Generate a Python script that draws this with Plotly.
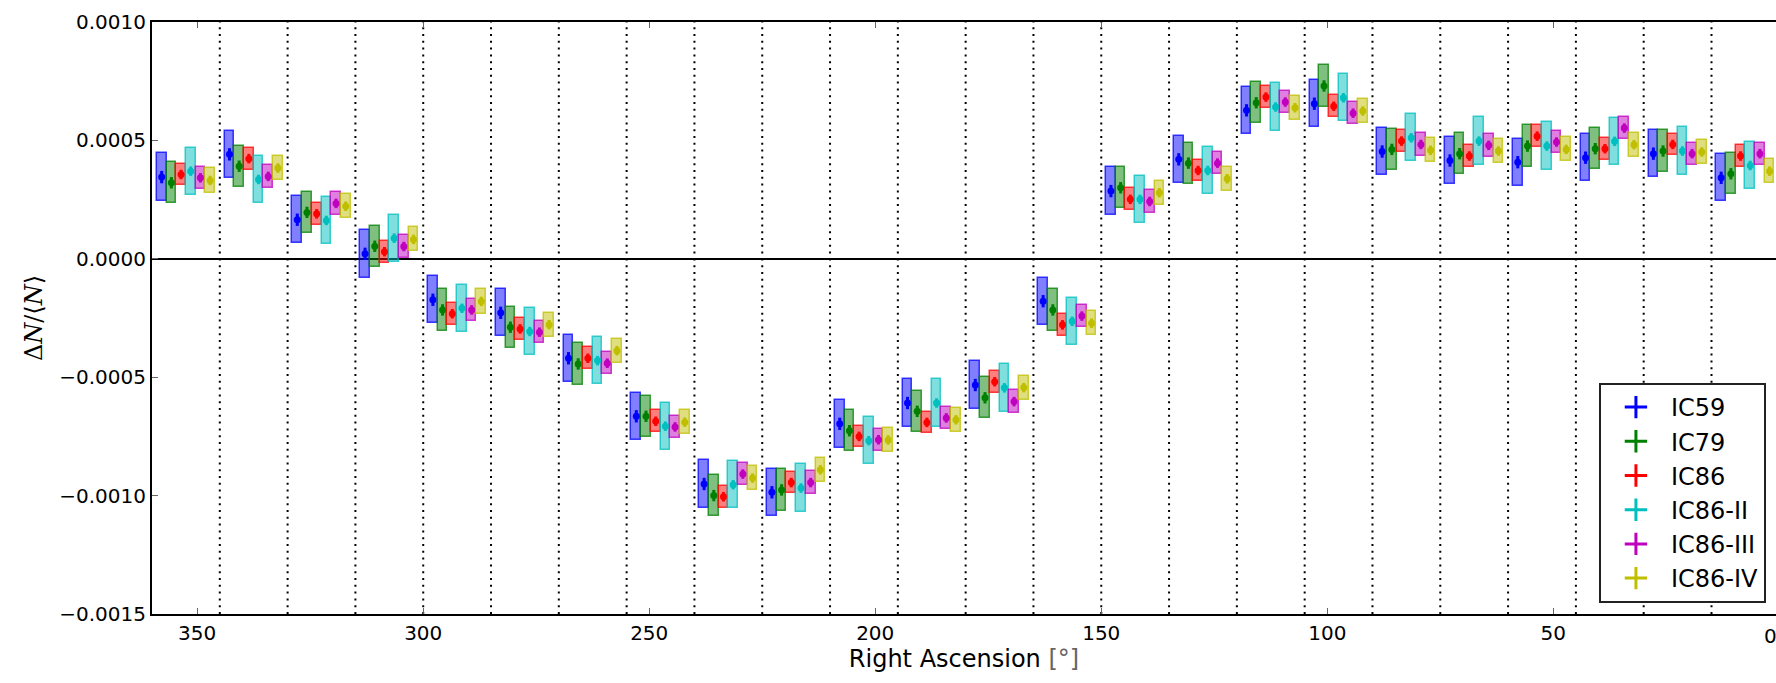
import plotly.graph_objects as go

# Right-ascension bin centres (degrees), 15 degree bins, read from 360 down to 0
ra_bins = [352.5, 337.5, 322.5, 307.5, 292.5, 277.5, 262.5, 247.5, 232.5, 217.5, 202.5, 187.5,
           172.5, 157.5, 142.5, 127.5, 112.5, 97.5, 82.5, 67.5, 52.5, 37.5, 22.5, 7.5]
bin_edges = [345, 330, 315, 300, 285, 270, 255, 240, 225, 210, 195, 180,
             165, 150, 135, 120, 105, 90, 75, 60, 45, 30, 15]

series_names = ["IC59", "IC79", "IC86", "IC86-II", "IC86-III", "IC86-IV"]

# relative intensity dN/<N>, in units of 1e-4
ic59 = [3.45, 4.41, 1.65, 0.21, -1.73, -2.28, -4.20, -6.65, -9.51, -9.86, -6.97, -6.09,
        -5.33, -1.79, 2.86, 4.20, 6.27, 6.55, 4.53, 4.15, 4.08, 4.27, 4.44, 3.42]
ic79 = [3.21, 3.91, 1.96, 0.53, -2.16, -2.89, -4.44, -6.65, -10.00, -9.76, -7.26, -6.44,
        -5.87, -2.16, 3.00, 4.04, 6.59, 7.30, 4.62, 4.44, 4.76, 4.65, 4.55, 3.59]
ic86 = [3.56, 4.23, 1.90, 0.30, -2.32, -2.96, -4.20, -6.86, -10.05, -9.45, -7.50, -6.91,
        -5.19, -2.79, 2.51, 3.73, 6.83, 6.44, 4.97, 4.34, 5.18, 4.65, 4.83, 4.34]
ic86_2 = [3.70, 3.35, 1.62, 0.87, -2.09, -3.07, -4.30, -7.07, -9.54, -9.68, -7.68, -6.09,
          -5.45, -2.64, 2.51, 3.73, 6.41, 6.80, 5.11, 4.97, 4.76, 4.96, 4.55, 3.94]
ic86_3 = [3.42, 3.48, 2.34, 0.52, -2.16, -3.10, -4.41, -7.10, -9.09, -9.45, -7.64, -6.72,
          -6.03, -2.42, 2.42, 4.04, 6.62, 6.15, 4.83, 4.79, 4.93, 5.52, 4.44, 4.44]
ic86_4 = [3.31, 3.83, 2.22, 0.82, -1.80, -2.78, -3.88, -6.90, -9.26, -8.91, -7.65, -6.80,
          -5.44, -2.72, 2.79, 3.38, 6.38, 6.24, 4.58, 4.55, 4.62, 4.82, 4.51, 3.70]
series_values = [ic59, ic79, ic86, ic86_2, ic86_3, ic86_4]

# systematic (box half-height) and statistical errors, units of 1e-4
sys_err = [1.00, 0.87, 0.46, 1.00, 0.47, 0.51]
stat_err = [0.26, 0.24, 0.20, 0.20, 0.20, 0.20]
SCALE = 1e-4

colors = ["#0000ff", "#008000", "#ff0000", "#00bfbf", "#bf00bf", "#bfbf00"]
fills = ["rgba(0,0,255,0.5)", "rgba(0,128,0,0.5)", "rgba(255,0,0,0.5)",
         "rgba(0,191,191,0.5)", "rgba(191,0,191,0.5)", "rgba(191,191,0,0.5)"]
edges = ["rgba(0,0,255,0.75)", "rgba(0,128,0,0.75)", "rgba(255,0,0,0.75)",
         "rgba(0,191,191,0.75)", "rgba(191,0,191,0.75)", "rgba(191,191,0,0.75)"]

BIN = 15.0
slot = BIN / 7.0

fig = go.Figure()

for i, (name, vals) in enumerate(zip(series_names, series_values)):
    xs = [c + (2.5 - i) * slot for c in ra_bins]
    ys = [v * SCALE for v in vals]
    s = sys_err[i] * SCALE
    fig.add_trace(go.Bar(
        x=xs, y=[2 * s] * len(ys), base=[y - s for y in ys], width=slot,
        marker=dict(color=fills[i], line=dict(color=edges[i], width=1.5)),
        showlegend=False, hoverinfo="skip"))

for i, (name, vals) in enumerate(zip(series_names, series_values)):
    xs = [c + (2.5 - i) * slot for c in ra_bins]
    ys = [v * SCALE for v in vals]
    fig.add_trace(go.Scatter(
        x=xs, y=ys, mode="markers",
        marker=dict(color=colors[i], size=7, symbol="circle"),
        error_y=dict(type="constant", value=stat_err[i] * SCALE, thickness=3,
                     width=0, color=colors[i]),
        showlegend=False, name=name))

for i, name in enumerate(series_names):
    fig.add_trace(go.Scatter(
        x=[None], y=[None], mode="markers", name=name,
        marker=dict(color=colors[i], size=16, symbol="cross-thin",
                    line=dict(color=colors[i], width=3))))

for e in bin_edges:
    fig.add_vline(x=e, line=dict(color="black", width=2, dash="2px,4.8px"), layer="below")

# tick label "0" sits just past the right edge of the visible frame
fig.add_annotation(x=1.002, y=0, xref="paper", yref="paper", yanchor="top", yshift=-8,
                   text="0", showarrow=False, font=dict(size=20, color="black"))

fig.update_layout(
    width=1776, height=683,
    margin=dict(l=152, r=0, t=22, b=69),
    paper_bgcolor="white", plot_bgcolor="white",
    barmode="overlay", bargap=0,
    font=dict(family="DejaVu Sans", color="black", size=20),
    showlegend=True,
    legend=dict(x=0.9938, y=0.0186, xanchor="right", yanchor="bottom",
                bgcolor="white", bordercolor="#222", borderwidth=2,
                font=dict(size=24), itemwidth=60, tracegroupgap=0),
)

fig.update_xaxes(
    range=[360, 0.73], tickmode="linear", tick0=0, dtick=50,
    ticks="inside", ticklen=6, tickwidth=1, tickcolor="#666",
    showline=True, linecolor="black", linewidth=2, mirror="ticks",
    showgrid=False, zeroline=False,
    tickfont=dict(size=20),
    title=dict(text="Right Ascension <span style='color:#666'>[°]</span>",
               font=dict(size=24), standoff=6),
)
fig.update_yaxes(
    range=[-0.0015, 0.0010], tickmode="linear", tick0=0, dtick=0.0005,
    tickformat=".4f",
    ticks="inside", ticklen=6, tickwidth=1, tickcolor="#666",
    showline=True, linecolor="black", linewidth=2, mirror=False,
    showgrid=False, zeroline=True, zerolinecolor="black", zerolinewidth=2,
    tickfont=dict(size=20),
    title=dict(text="Δ<i>N</i>/⟨<i>N</i>⟩", font=dict(size=24, family="DejaVu Serif"),
               standoff=10),
)

fig.write_html("out.html")
